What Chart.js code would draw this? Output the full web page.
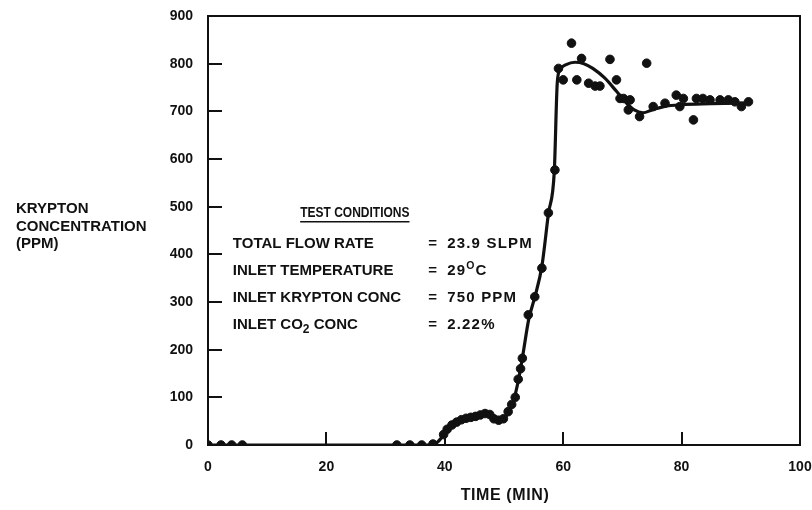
<!DOCTYPE html>
<html>
<head>
<meta charset="utf-8">
<script src="https://cdn.jsdelivr.net/npm/chart.js@4.4.1/dist/chart.umd.min.js"></script>
<style>
  html, body { margin: 0; padding: 0; background: #fff; }
  #wrap { width: 812px; height: 510px; }
</style>
</head>
<body>
<div id="wrap"><canvas id="c" width="812" height="510"></canvas></div>
<script>
// Measured krypton concentration (ppm) against time (min)
const sampleTimes = [0, 2.2, 4, 5.8, 31.9, 34.1, 36.1, 38.0,
  39.8, 40.4, 41.2, 42.0, 42.8, 43.6, 44.4, 45.2, 46.0, 46.8, 47.6, 48.3, 49.1, 49.9,
  50.7, 51.3, 51.9, 52.4, 52.8, 53.1, 54.1, 55.2, 56.4, 57.5, 58.6,
  59.2, 60.0, 61.4, 62.3, 63.1, 64.3, 65.4, 66.2, 67.9, 69.0, 69.6, 70.2, 71.0, 71.3,
  72.9, 74.1, 75.2, 77.2, 79.1, 79.7, 80.3, 82.0, 82.5, 83.6, 84.8, 86.5, 87.9,
  89.0, 90.1, 91.3];
const sampleValues = [0, 0, 0, 0, 0, 0, 0, 2,
  22, 33, 42, 48, 53, 56, 58, 60, 63, 66, 64, 55, 52, 55,
  70, 85, 100, 138, 160, 182, 273, 311, 371, 487, 577,
  790, 766, 843, 766, 811, 759, 753, 753, 809, 766, 727, 727, 703, 724,
  689, 801, 710, 717, 734, 710, 727, 682, 727, 727, 724, 724, 724,
  720, 710, 720];

// Smoothed response curve drawn through the samples
const curveTimes = [0, 38, 38.6, 39.5, 40.5, 42, 44, 46, 47.3, 48.5, 49.4, 50.5, 51.5,
  52.5, 53.2, 54.2, 55.2, 56.4, 57.5, 58.5, 59.0, 59.5, 60.5, 62, 63.5, 65, 67,
  69, 70.5, 72, 73.5, 75, 77, 80, 85, 91.3];
const curveValues = [0, 0, 4, 16, 33, 47, 58, 64, 66, 56, 52, 63, 88,
  140, 190, 265, 310, 375, 485, 575, 760, 788, 798, 803, 800, 790, 770,
  742, 720, 703, 697, 703, 710, 714, 716, 718];

const xTickValues = [0, 20, 40, 60, 80, 100];
const yTickValues = [0, 100, 200, 300, 400, 500, 600, 700, 800, 900];

const yTitleLines = ['KRYPTON', 'CONCENTRATION', '(PPM)'];
const xTitle = 'TIME (MIN)';
const conditionsHeader = 'TEST CONDITIONS';
const conditionNames = ['TOTAL FLOW RATE', 'INLET TEMPERATURE', 'INLET KRYPTON CONC', 'INLET CO|2| CONC'];
const conditionValues = ['23.9 SLPM', '29^O^C', '750 PPM', '2.22%'];

const FONT = '"Liberation Sans", Arial, sans-serif';
const INK = '#111';

function toPoints(xs, ys) { return xs.map((x, i) => ({ x: x, y: ys[i] })); }

// Draws text where |x| marks a subscript and ^x^ a superscript
function richText(ctx, str, x, y, size) {
  const parts = str.split(/(\|[^|]*\||\^[^^]*\^)/).filter(s => s.length);
  let cx = x;
  parts.forEach(p => {
    let txt = p, dy = 0, fs = size;
    if (p[0] === '|') { txt = p.slice(1, -1); dy = 5; fs = size * 0.8; }
    else if (p[0] === '^') { txt = p.slice(1, -1); dy = -5; fs = size * 0.7; }
    ctx.font = 'bold ' + fs + 'px ' + FONT;
    ctx.fillText(txt, cx, y + dy);
    cx += ctx.measureText(txt).width;
  });
}

const decorations = {
  id: 'decorations',
  afterDraw(chart) {
    const ctx = chart.ctx;
    const a = chart.chartArea;
    const xs = chart.scales.x, ys = chart.scales.y;
    ctx.save();
    ctx.strokeStyle = INK;
    ctx.fillStyle = INK;
    ctx.lineWidth = 2;
    // frame
    ctx.strokeRect(a.left, a.top, a.right - a.left, a.bottom - a.top);
    // inward tick marks
    ctx.beginPath();
    yTickValues.slice(1, -1).forEach(v => {
      const py = Math.round(ys.getPixelForValue(v));
      ctx.moveTo(a.left, py); ctx.lineTo(a.left + 14, py);
    });
    xTickValues.slice(1, -1).forEach(v => {
      const px = Math.round(xs.getPixelForValue(v));
      ctx.moveTo(px, a.bottom); ctx.lineTo(px, a.bottom - 13);
    });
    ctx.stroke();

    // axis titles
    ctx.textBaseline = 'middle';
    ctx.textAlign = 'left';
    ctx.font = 'bold 15px ' + FONT;
    yTitleLines.forEach((t, i) => ctx.fillText(t, 16, 209 + i * 17.5));
    ctx.textAlign = 'center';
    ctx.font = 'bold 16px ' + FONT;
    ctx.letterSpacing = '0.6px';
    ctx.fillText(xTitle, (a.left + a.right) / 2 + 1, 496);
    ctx.letterSpacing = '0px';

    // test conditions block
    const hx = xs.getPixelForValue(24.8), hy = ys.getPixelForValue(487);
    ctx.save();
    ctx.translate(hx, hy);
    ctx.scale(0.8, 1);
    ctx.font = 'bold 15px ' + FONT;
    ctx.fillText(conditionsHeader, 0, 0);
    const hw = ctx.measureText(conditionsHeader).width * 0.8;
    ctx.restore();
    ctx.lineWidth = 1.5;
    ctx.beginPath();
    ctx.moveTo(hx - hw / 2, hy + 9); ctx.lineTo(hx + hw / 2, hy + 9);
    ctx.stroke();
    ctx.textAlign = 'left';
    const rowValues = [421.6, 365, 308, 252];
    const nameX = xs.getPixelForValue(4.2);
    const eqX = xs.getPixelForValue(37.2);
    const valX = xs.getPixelForValue(40.4);
    conditionNames.forEach((n, i) => {
      const py = ys.getPixelForValue(rowValues[i]);
      richText(ctx, n, nameX, py, 15);
      ctx.font = 'bold 15px ' + FONT;
      ctx.fillText('=', eqX, py);
      ctx.letterSpacing = '1.2px';
      richText(ctx, conditionValues[i], valX, py, 15);
      ctx.letterSpacing = '0px';
    });
    ctx.restore();
  }
};

new Chart(document.getElementById('c'), {
  type: 'scatter',
  data: {
    datasets: [
      {
        type: 'line',
        data: toPoints(curveTimes, curveValues),
        borderColor: INK,
        borderWidth: 3.2,
        pointRadius: 0,
        cubicInterpolationMode: 'monotone',
        fill: false
      },
      {
        data: toPoints(sampleTimes, sampleValues),
        backgroundColor: INK,
        borderColor: INK,
        pointRadius: 4.3,
        pointHoverRadius: 4.3,
        showLine: false
      }
    ]
  },
  options: {
    responsive: false,
    animation: false,
    events: [],
    layout: { padding: { left: 0, right: 12, top: 16, bottom: 0 } },
    plugins: { legend: { display: false }, tooltip: { enabled: false } },
    scales: {
      x: {
        type: 'linear',
        min: 0, max: 100,
        afterBuildTicks: s => { s.ticks = xTickValues.map(v => ({ value: v })); },
        afterFit: s => { s.height = 65; s.paddingLeft = 0; s.paddingRight = 0; },
        grid: { display: false, drawTicks: false },
        border: { display: true, color: INK, width: 2 },
        ticks: {
          padding: 14,
          color: INK,
          font: { family: FONT, size: 14, weight: 'bold' }
        }
      },
      y: {
        min: 0, max: 900,
        afterBuildTicks: s => { s.ticks = yTickValues.map(v => ({ value: v })); },
        afterFit: s => { s.width = 208; s.paddingTop = 0; s.paddingBottom = 0; },
        grid: { display: false, drawTicks: false },
        border: { display: true, color: INK, width: 2 },
        ticks: {
          padding: 15,
          color: INK,
          font: { family: FONT, size: 14, weight: 'bold' }
        }
      }
    }
  },
  plugins: [decorations]
});
</script>
</body>
</html>
